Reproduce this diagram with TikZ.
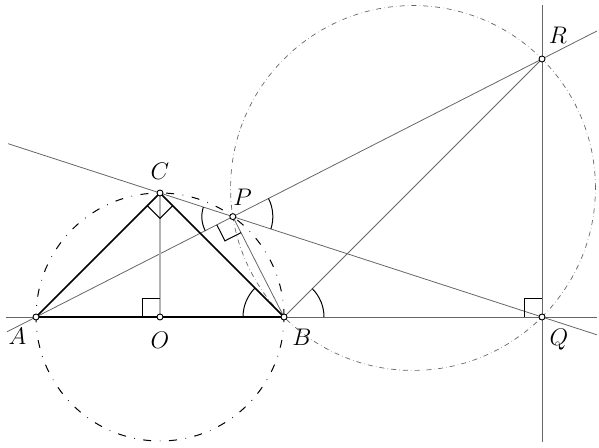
\documentclass[tikz,border=0pt]{standalone}
\usetikzlibrary{calc}
\begin{document}
\begin{tikzpicture}[x=0.5pt,y=0.5pt,
  thinline/.style={draw=black!60, line width=0.4pt},
  thickline/.style={draw=black, line width=0.8pt},
  altline/.style={draw=black!30, line width=0.9pt},
  circO/.style={draw=black, line width=0.5pt, dash pattern=on 4pt off 4.3pt on 0.3pt off 4.3pt},
  circM/.style={draw=black!60, line width=0.35pt, dash pattern=on 2.5pt off 1.6pt on 0.2pt off 1.6pt},
  markline/.style={draw=black, line width=0.5pt},
  pt/.style={circle, draw=black, fill=white, line width=0.45pt, inner sep=0pt, minimum size=3pt},
  lbl/.style={inner sep=0pt, font=\large}]
\useasboundingbox (0,0) rectangle (599,448);
% points
\coordinate (O) at (160,131);
\coordinate (A) at (36,131);
\coordinate (B) at (284,131);
\coordinate (C) at (160,255);
\coordinate (Q) at (542,131);
\coordinate (P) at (232.83,231.36);
\coordinate (R) at (542,389.0);
\coordinate (M) at (413,260);
% line ends
\coordinate (H1) at (6,131);
\coordinate (H2) at (597,131);
\coordinate (L1) at (8,304.34);
\coordinate (L2) at (597,113.15);
\coordinate (K1) at (7,116.2);
\coordinate (K2) at (597,417.04);
\coordinate (V1) at (542,443);
\coordinate (V2) at (542,6);
% circles
\draw[circO] (O) circle[radius=124];
\draw[circM] (M) circle[radius=182.43];
% thin lines
\draw[thinline] (H1) -- (H2);
\draw[thinline] (L1) -- (L2);
\draw[thinline] (K1) -- (K2);
\draw[thinline] (V1) -- (V2);
\draw[thinline] (B) -- (R);
\draw[thinline] (P) -- (B);
\draw[altline] (C) -- (O);
% thick lines
\draw[thickline] (A) -- (B);
\draw[thickline] (A) -- (C) -- (B);
% right angle marks
\draw[markline] ($(O)+(-18,0)$) -- ++(0,18) -- ++(18,0);
\draw[markline] ($(Q)+(-18,0)$) -- ++(0,18) -- ++(18,0);
\coordinate (ca) at ($(C)!9pt!(A)$);
\coordinate (cb) at ($(C)!9pt!(B)$);
\draw[markline] (ca) -- ($(ca)+(cb)-(C)$) -- (cb);
\coordinate (pa) at ($(P)!9pt!(A)$);
\coordinate (pb) at ($(P)!9pt!(B)$);
\draw[markline] (pa) -- ($(pa)+(pb)-(P)$) -- (pb);
% angle arcs
\draw[markline] ($(B)+(135:41)$) arc[start angle=135, end angle=180, radius=41];
\draw[markline] ($(B)+(0:40)$) arc[start angle=0, end angle=45, radius=40];
\draw[markline] ($(P)+(162:31)$) arc[start angle=162, end angle=207.03, radius=31];
\draw[markline] ($(P)+(-17.98:40)$) arc[start angle=-17.98, end angle=27.02, radius=40];
% point markers
\foreach \p in {A,O,B,C,P,Q,R} \node[pt] (d\p) at (\p) {};
% labels
\node[lbl] (lA) at (17.5,111.5) {$A$};
\node[lbl] (lO) at (160,108) {$O$};
\node[lbl] (lB) at (302,111) {$B$};
\node[lbl] (lC) at (160,277) {$C$};
\node[lbl] (lP) at (242.5,250.5) {$P$};
\node[lbl] (lR) at (558,413) {$R$};
\node[lbl] (lQ) at (559,108) {$Q$};
\end{tikzpicture}
\end{document}
